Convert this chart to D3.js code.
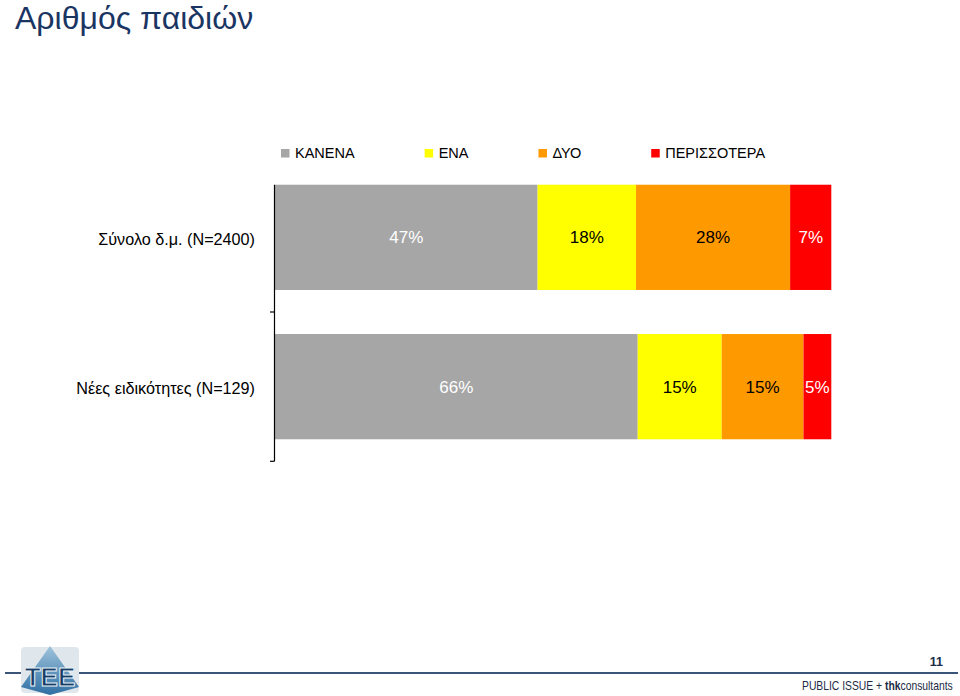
<!DOCTYPE html>
<html>
<head>
<meta charset="utf-8">
<script src="https://cdn.jsdelivr.net/npm/d3@7"></script>
<style>
  html, body { margin: 0; padding: 0; background: #fff; }
  svg { display: block; font-family: "Liberation Sans", Arial, Helvetica, sans-serif; }
</style>
</head>
<body>
<svg id="chart" width="960" height="696"></svg>
<script>
// ---- data ----
const title = "Αριθμός παιδιών";
const categories = ["Σύνολο δ.μ. (N=2400)", "Νέες ειδικότητες (N=129)"];
const seriesNames = ["ΚΑΝΕΝΑ", "ΕΝΑ", "ΔΥΟ", "ΠΕΡΙΣΣΟΤΕΡΑ"];
const seriesColors = ["#A6A6A6", "#FFFF00", "#FF9900", "#FF0000"];
const labelColors = ["#FFFFFF", "#000000", "#000000", "#FFFFFF"];
// values per category (percent of total)
const valuesTotal = [47.2, 17.7, 27.7, 7.4];
const valuesNew = [65.2, 15.1, 14.7, 5.0];
const labelsTotal = ["47%", "18%", "28%", "7%"];
const labelsNew = ["66%", "15%", "15%", "5%"];
const pageNumber = "11";
const footerText = ["PUBLIC ISSUE + ", "thk", "consultants"];

const svg = d3.select("#chart");

// ---- title ----
svg.append("text")
  .attr("x", 15).attr("y", 28.5)
  .attr("font-size", 32)
  .attr("fill", "#1b3563")
  .text(title);

// ---- scales ----
const x = d3.scaleLinear().domain([0, 100]).range([275, 831.3]);
const y = d3.scaleBand().domain(categories).range([162.7, 461.3]).padding(0);
const barH = y.bandwidth() * 0.705;

const rows = [
  { cat: categories[0], values: valuesTotal, labels: labelsTotal },
  { cat: categories[1], values: valuesNew, labels: labelsNew }
];

// ---- bars ----
rows.forEach(row => {
  let cum = 0;
  const segs = row.values.map((v, i) => {
    const s = { x0: cum, x1: cum + v, i, label: row.labels[i] };
    cum += v;
    return s;
  });
  const yTop = y(row.cat) + (y.bandwidth() - barH) / 2;
  const g = svg.append("g");
  g.selectAll("rect").data(segs).join("rect")
    .attr("x", d => x(d.x0))
    .attr("y", yTop)
    .attr("width", d => x(d.x1) - x(d.x0))
    .attr("height", barH)
    .attr("fill", d => seriesColors[d.i]);
  g.selectAll("text").data(segs).join("text")
    .attr("x", d => (x(d.x0) + x(d.x1)) / 2)
    .attr("y", yTop + barH / 2)
    .attr("dy", "0.36em")
    .attr("text-anchor", "middle")
    .attr("font-size", 17)
    .attr("fill", d => labelColors[d.i])
    .text(d => d.label);
});

// ---- category axis ----
const firstBarTop = y(categories[0]) + (y.bandwidth() - barH) / 2;
const axisG = svg.append("g");
axisG.append("line")
  .attr("x1", x(0) - 0.5).attr("x2", x(0) - 0.5)
  .attr("y1", firstBarTop).attr("y2", y.range()[1])
  .attr("stroke", "#000").attr("stroke-width", 1.2);
axisG.selectAll("line.tick").data(categories).join("line")
  .attr("class", "tick")
  .attr("x1", x(0) - 5).attr("x2", x(0) - 0.5)
  .attr("y1", d => y(d) + y.bandwidth())
  .attr("y2", d => y(d) + y.bandwidth())
  .attr("stroke", "#000").attr("stroke-width", 1.2);
axisG.selectAll("text").data(categories).join("text")
  .attr("x", x(0) - 20)
  .attr("y", d => y(d) + y.bandwidth() / 2 + 2)
  .attr("dy", "0.36em")
  .attr("text-anchor", "end")
  .attr("font-size", 16.2)
  .attr("fill", "#000")
  .text(d => d);

// ---- legend ----
const legend = svg.append("g").attr("transform", "translate(281,0)");
let lx = 0;
seriesNames.forEach((name, i) => {
  const item = legend.append("g").attr("transform", `translate(${lx},0)`);
  item.append("rect")
    .attr("x", 0).attr("y", 149).attr("width", 8.5).attr("height", 8.5)
    .attr("fill", seriesColors[i]);
  const t = item.append("text")
    .attr("x", 14).attr("y", 158)
    .attr("font-size", 14.5)
    .attr("fill", "#000")
    .text(name);
  const w = t.node().getComputedTextLength();
  lx += 14 + w + 70;
});

// ---- footer ----
svg.append("line")
  .attr("x1", 5).attr("x2", 958)
  .attr("y1", 673).attr("y2", 673)
  .attr("stroke", "#3a5577").attr("stroke-width", 1.8);

svg.append("text")
  .attr("x", 943).attr("y", 666)
  .attr("text-anchor", "end")
  .attr("font-size", 12.5)
  .attr("font-weight", "bold")
  .attr("fill", "#1b2b45")
  .text(pageNumber);

const footG = svg.append("g");
const ft = footG.append("text")
  .attr("x", 0).attr("y", 0)
  .attr("font-size", 12)
  .attr("fill", "#1b2b45");
ft.append("tspan").text(footerText[0]);
ft.append("tspan").attr("font-weight", "bold").text(footerText[1]);
ft.append("tspan").text(footerText[2]);
const fw = ft.node().getBBox().width;
const sx = 151 / fw;
footG.attr("transform", `translate(${953 - 151},690) scale(${sx},1)`);

// ---- logo (TEE emblem) ----
const logo = svg.append("g").attr("transform", "translate(17,645)");
const grad = svg.append("defs").append("linearGradient")
  .attr("id", "lg").attr("x1", 0).attr("y1", 0).attr("x2", 0).attr("y2", 1);
grad.append("stop").attr("offset", "0%").attr("stop-color", "#9fc3dc");
grad.append("stop").attr("offset", "100%").attr("stop-color", "#2f6fa3");
logo.append("rect").attr("x", 4).attr("y", 2).attr("width", 58).attr("height", 46)
  .attr("fill", "#dfe6ec").attr("rx", 4);
logo.append("path")
  .attr("d", "M33,1 L62,42 L33,50 L4,42 Z")
  .attr("fill", "url(#lg)");
logo.append("text")
  .attr("x", 33).attr("y", 41)
  .attr("text-anchor", "middle")
  .attr("font-size", 26)
  .attr("font-weight", "bold")
  .attr("fill", "#173d66")
  .attr("stroke", "#e8f0f6").attr("stroke-width", 1)
  .text("TEE");
</script>
</body>
</html>
